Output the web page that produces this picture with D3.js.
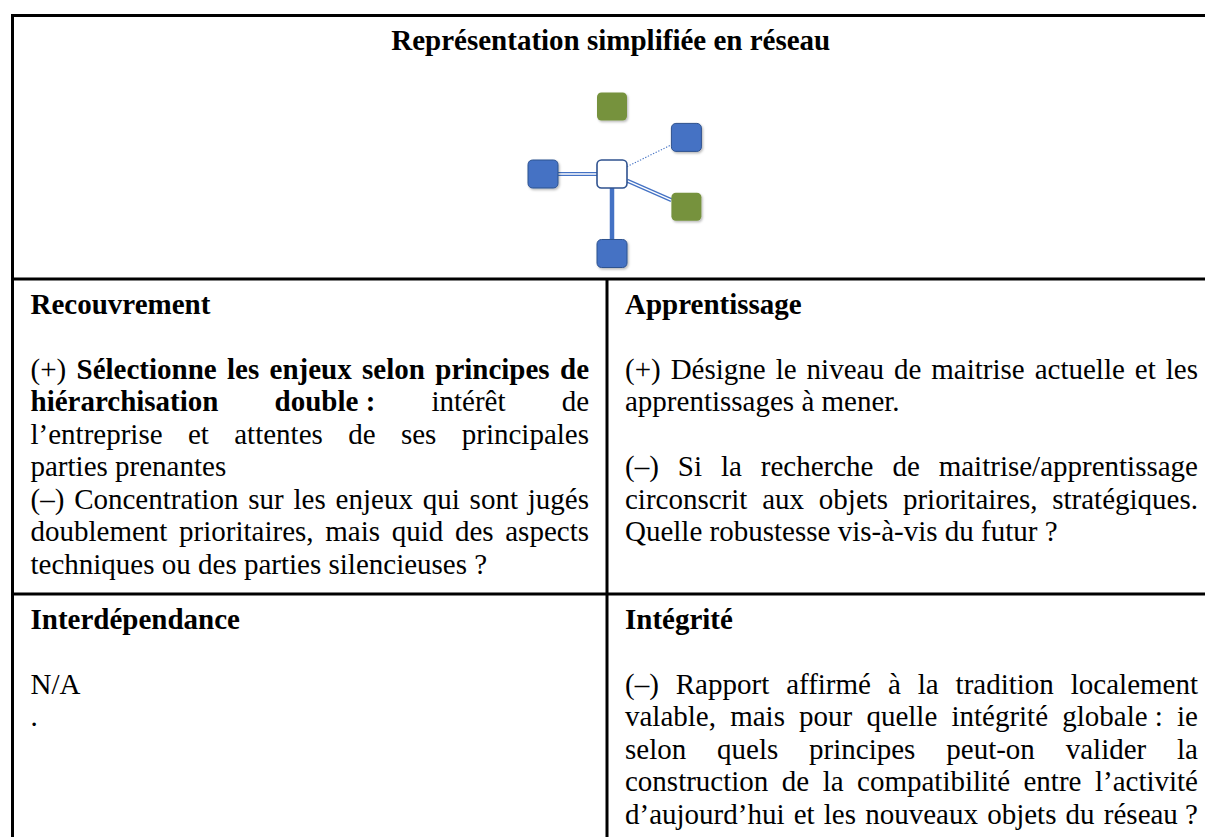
<!DOCTYPE html>
<html><head><meta charset="utf-8">
<script src="https://cdn.jsdelivr.net/npm/d3@7"></script>
<style>
html,body{margin:0;padding:0;background:#fff;overflow:hidden}
svg{display:block}
</style></head><body>
<svg id="chart" width="1205" height="837"></svg>
<script>
// ---------- DATA ----------
const titleText = "Représentation simplifiée en réseau";

// network nodes (abstract grid units, node-size based)
const nodeIds   = ["top", "topRight", "left", "center", "right", "bottom"];
const nodeKinds = ["green", "blue", "blue", "hub", "green", "blue"];
const nodeCol   = [0, 2.48, -2.3, 0, 2.48, 0];
const nodeRow   = [-2.25, -1.22, 0, 0, 1.09, 2.65];

// network links
const linkSource = ["left", "center", "center", "center"];
const linkTarget = ["center", "topRight", "right", "bottom"];
const linkStyle  = ["double", "dotted", "double", "thick"];

// table cells (reading order: row 2 left, row 2 right, row 3 left, row 3 right)
const cellHeadings = ["Recouvrement", "Apprentissage", "Interdépendance", "Intégrité"];
// "**" toggles bold; "|" at line end = justified line
const cellLines = [
  ["",
   "(+) **Sélectionne les enjeux selon principes de**|",
   "**hiérarchisation double\u00A0:** intérêt de|",
   "l’entreprise et attentes de ses principales|",
   "parties prenantes",
   "(–) Concentration sur les enjeux qui sont jugés|",
   "doublement prioritaires, mais quid des aspects|",
   "techniques ou des parties silencieuses\u00A0?"],
  ["",
   "(+) Désigne le niveau de maitrise actuelle et les|",
   "apprentissages à mener.",
   "",
   "(–) Si la recherche de maitrise/apprentissage|",
   "circonscrit aux objets prioritaires, stratégiques.|",
   "Quelle robustesse vis-à-vis du futur\u00A0?"],
  ["",
   "N/A",
   "."],
  ["",
   "(–) Rapport affirmé à la tradition localement|",
   "valable, mais pour quelle intégrité globale\u00A0: ie|",
   "selon quels principes peut-on valider la|",
   "construction de la compatibilité entre l’activité|",
   "d’aujourd’hui et les nouveaux objets du réseau\u00A0?|"]
];

// ---------- LAYOUT ----------
const W = 1205, H = 837;
const FONT = "'Liberation Serif', 'Times New Roman', serif";
const fontSize = 29;
const lineH = 32.5;
const tableLeft = 12.5, tableRight = 1207, tableTop = 15.5;
const row2Top = 279, row3Top = 594, colSplit = 607;
const border = 3;

const svg = d3.select("#chart").attr("font-family", FONT);

// ---------- TABLE BORDERS ----------
const bg = svg.append("g").attr("stroke", "#000").attr("stroke-width", border);
bg.append("line").attr("x1", tableLeft - 1.5).attr("x2", tableRight).attr("y1", tableTop).attr("y2", tableTop);
bg.append("line").attr("x1", tableLeft).attr("x2", tableLeft).attr("y1", tableTop - 1.5).attr("y2", H + 5);
bg.append("line").attr("x1", tableRight).attr("x2", tableRight).attr("y1", tableTop - 1.5).attr("y2", H + 5);
bg.append("line").attr("x1", tableLeft).attr("x2", tableRight).attr("y1", row2Top).attr("y2", row2Top);
bg.append("line").attr("x1", tableLeft).attr("x2", tableRight).attr("y1", row3Top).attr("y2", row3Top);
bg.append("line").attr("x1", colSplit).attr("x2", colSplit).attr("y1", row2Top).attr("y2", H + 5);

// ---------- TITLE ----------
svg.append("text")
  .attr("x", (tableLeft + tableRight) / 2 + 1)
  .attr("y", 50)
  .attr("text-anchor", "middle")
  .attr("font-weight", 700)
  .attr("font-size", fontSize)
  .attr("fill", "#000")
  .text(titleText);

// ---------- NETWORK ----------
const unit = 30;
const cx = 612, cy = 174;
const xs = d3.scaleLinear().domain([0, 1]).range([cx, cx + unit]);
const ys = d3.scaleLinear().domain([0, 1]).range([cy, cy + unit]);
const nodeW = 30, nodeH = 28;
const nodes = nodeIds.map((id, i) => ({ id, kind: nodeKinds[i], x: xs(nodeCol[i]), y: ys(nodeRow[i]) }));
const byId = Object.fromEntries(nodes.map(n => [n.id, n]));
const links = linkSource.map((s, i) => ({ s: byId[s], t: byId[linkTarget[i]], style: linkStyle[i] }));

const defs = svg.append("defs");
const f = defs.append("filter").attr("id", "shadow").attr("x", "-30%").attr("y", "-30%").attr("width", "160%").attr("height", "160%");
f.append("feDropShadow").attr("dx", 1.2).attr("dy", 1.5).attr("stdDeviation", 1.2).attr("flood-color", "#000").attr("flood-opacity", 0.28);

const blue = "#4472C4", blueDark = "#2F528F", green = "#76923C";

function clipToRect(from, to) {
  const dx = to.x - from.x, dy = to.y - from.y;
  const tx = dx === 0 ? Infinity : (nodeW / 2) / Math.abs(dx);
  const ty = dy === 0 ? Infinity : (nodeH / 2) / Math.abs(dy);
  const t = Math.min(tx, ty);
  return { x: from.x + dx * t, y: from.y + dy * t };
}
const lg = svg.append("g");
links.forEach(l => {
  const a = clipToRect(l.s, l.t), b = clipToRect(l.t, l.s);
  if (l.style === "double") {
    lg.append("line").attr("x1", a.x).attr("y1", a.y).attr("x2", b.x).attr("y2", b.y)
      .attr("stroke", blue).attr("stroke-width", 4);
    lg.append("line").attr("x1", a.x).attr("y1", a.y).attr("x2", b.x).attr("y2", b.y)
      .attr("stroke", "#fff").attr("stroke-width", 1.4);
  } else if (l.style === "dotted") {
    lg.append("line").attr("x1", a.x).attr("y1", a.y).attr("x2", b.x).attr("y2", b.y)
      .attr("stroke", blue).attr("stroke-width", 1.1).attr("stroke-dasharray", "1.3 1.6");
  } else {
    lg.append("line").attr("x1", a.x).attr("y1", a.y).attr("x2", b.x).attr("y2", b.y)
      .attr("stroke", blue).attr("stroke-width", 4.5);
  }
});

svg.append("g").selectAll("rect").data(nodes).join("rect")
  .attr("x", d => d.x - nodeW / 2).attr("y", d => d.y - nodeH / 2)
  .attr("width", nodeW).attr("height", nodeH).attr("rx", 4.5)
  .attr("fill", d => d.kind === "blue" ? blue : d.kind === "green" ? green : "#fff")
  .attr("stroke", d => d.kind === "green" ? "none" : blueDark)
  .attr("stroke-width", d => d.kind === "hub" ? 1.6 : 1)
  .attr("filter", d => d.kind === "hub" ? null : "url(#shadow)");

// ---------- TEXT CELLS ----------
function parseTokens(line) {
  let bold = false;
  const out = [];
  line.split(" ").filter(s => s.length).forEach(tok => {
    let t = tok;
    let startBold = bold;
    if (t.startsWith("**")) { startBold = true; bold = true; t = t.slice(2); }
    let endToggle = false;
    if (t.endsWith("**")) { endToggle = true; t = t.slice(0, -2); }
    out.push({ text: t, bold: startBold });
    if (endToggle) bold = false;
  });
  return out;
}

const measurer = svg.append("text").attr("font-size", fontSize).attr("x", -1000).attr("y", -1000).text("a a");
const spaceW = (() => {
  const w2 = measurer.node().getComputedTextLength();
  measurer.text("aa");
  return w2 - measurer.node().getComputedTextLength();
})();
measurer.remove();

function renderLine(g, raw, x0, x1, y) {
  let justify = false;
  let line = raw;
  if (line.endsWith("|")) { justify = true; line = line.slice(0, -1); }
  const tokens = parseTokens(line);
  if (!tokens.length) return;
  const texts = tokens.map(t => g.append("text")
    .attr("y", y).attr("font-size", fontSize)
    .attr("font-weight", t.bold ? 700 : 400)
    .attr("fill", "#000")
    .text(t.text));
  const widths = texts.map(t => t.node().getComputedTextLength());
  const total = d3.sum(widths);
  const avail = x1 - x0;
  const n = tokens.length;
  let gap = spaceW, scale = 1;
  if (justify && n > 1) {
    gap = (avail - total) / (n - 1);
    if (gap < spaceW * 0.8) {
      gap = spaceW * 0.8;
      scale = (avail - gap * (n - 1)) / total;
    }
  } else {
    const nat = total + spaceW * (n - 1);
    if (nat > avail) scale = (avail - spaceW * (n - 1)) / total;
  }
  let x = x0;
  texts.forEach((t, i) => {
    t.attr("x", x);
    if (scale !== 1) t.attr("textLength", widths[i] * scale).attr("lengthAdjust", "spacingAndGlyphs");
    x += widths[i] * scale + gap;
  });
}

const cellBoxes = [
  { x0: 30.5, x1: 589, top: row2Top },
  { x0: 625, x1: 1198, top: row2Top },
  { x0: 30.5, x1: 589, top: row3Top },
  { x0: 625, x1: 1198, top: row3Top }
];

const tg = svg.append("g");
cellBoxes.forEach((box, i) => {
  const headY = box.top + 34.5;
  tg.append("text").attr("x", box.x0).attr("y", headY)
    .attr("font-size", fontSize).attr("font-weight", 700).attr("fill", "#000")
    .text(cellHeadings[i]);
  cellLines[i].forEach((ln, j) => {
    renderLine(tg, ln, box.x0, box.x1, headY + (j + 1) * lineH);
  });
});
</script>
</body></html>
